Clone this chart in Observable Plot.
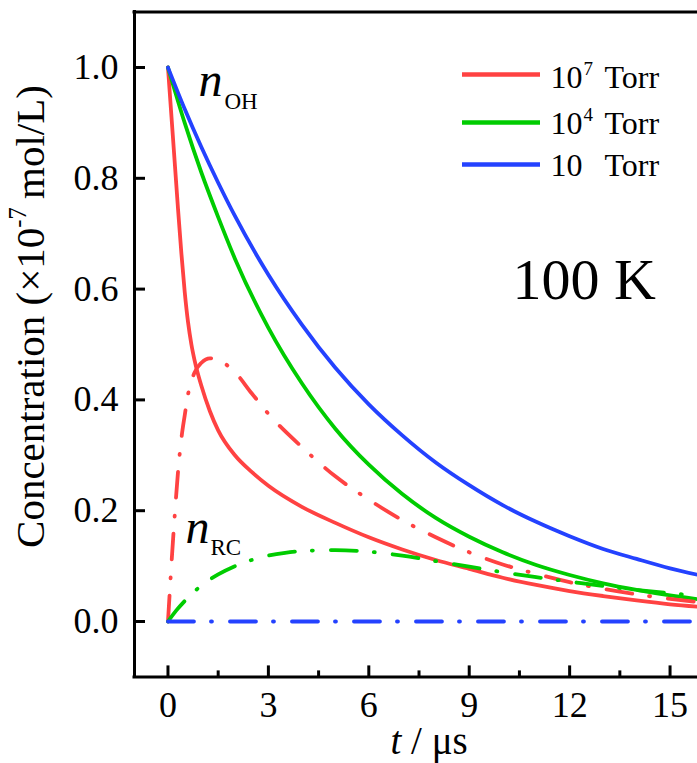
<!DOCTYPE html>
<html><head><meta charset="utf-8">
<script src="https://cdn.jsdelivr.net/npm/d3@7"></script>
<script src="https://cdn.jsdelivr.net/npm/@observablehq/plot@0.6"></script>
<style>
html,body{margin:0;padding:0;background:#fff;overflow:hidden;}
#chart svg{display:block;}
</style></head><body><div id="chart"></div>
<script>
// ---------- data ----------
const seriesNames = ["1e7", "1e4", "10"];
const seriesColors = ["#ff4242", "#00cc00", "#2442ff"];
const legendBase = "10";
const legendExp = ["7", "4", ""];
const legendUnit = "Torr";

// n_OH (solid)
const tRedOH = [0, 0.1, 0.2, 0.3, 0.4, 0.5, 0.6, 0.7, 0.8, 1.0, 1.25, 1.5, 2, 2.5, 3, 4, 5, 6, 7, 8, 9, 10, 11, 12, 13, 14, 15, 16];
const vRedOH = [1.0, 0.915, 0.83, 0.745, 0.665, 0.595, 0.54, 0.50, 0.47, 0.425, 0.38, 0.345, 0.30, 0.27, 0.245, 0.207, 0.178, 0.152, 0.130, 0.111, 0.095, 0.079, 0.066, 0.055, 0.046, 0.038, 0.031, 0.026];
const tGreenOH = [0, 0.5, 1, 1.5, 2, 3, 4, 5, 6, 7, 8, 9, 10, 11, 12, 13, 14, 15, 16];
const vGreenOH = [1.0, 0.90, 0.81, 0.73, 0.655, 0.53, 0.43, 0.348, 0.283, 0.23, 0.187, 0.153, 0.125, 0.102, 0.084, 0.069, 0.057, 0.047, 0.039];
const tBlueOH = [0, 0.5, 1, 1.5, 2, 3, 4, 5, 6, 7, 8, 9, 10, 11, 12, 13, 14, 15, 16];
const vBlueOH = [1.0, 0.925, 0.856, 0.792, 0.732, 0.626, 0.536, 0.458, 0.392, 0.336, 0.287, 0.246, 0.21, 0.18, 0.154, 0.131, 0.113, 0.096, 0.082];

// n_RC (dash-dot)
const tRedRC = [0, 0.05, 0.1, 0.2, 0.3, 0.4, 0.5, 0.6, 0.8, 1.0, 1.25, 1.5, 2, 2.5, 3, 4, 5, 6, 7, 8, 9, 10, 11, 12, 13, 14, 15, 16];
const vRedRC = [0, 0.05, 0.10, 0.19, 0.27, 0.33, 0.372, 0.41, 0.45, 0.467, 0.475, 0.472, 0.45, 0.412, 0.375, 0.315, 0.262, 0.22, 0.183, 0.152, 0.125, 0.103, 0.086, 0.071, 0.059, 0.049, 0.041, 0.034];
const tGreenRC = [0, 0.25, 0.5, 1, 1.5, 2, 2.5, 3, 3.5, 4, 5, 6, 7, 8, 9, 10, 11, 12, 13, 14, 15, 16];
const vGreenRC = [0, 0.02, 0.037, 0.065, 0.085, 0.1, 0.111, 0.119, 0.124, 0.127, 0.129, 0.126, 0.119, 0.109, 0.099, 0.089, 0.08, 0.072, 0.064, 0.057, 0.051, 0.046];
const tBlueRC = [0, 16];
const vBlueRC = [0, 0];

// ticks
const xTicks = [0, 3, 6, 9, 12, 15];
const xMinor = [1.5, 4.5, 7.5, 10.5, 13.5];
const yTicks = [0, 0.2, 0.4, 0.6, 0.8, 1.0];

// texts
const xLabelText = "t / μs";
const yLabelText = "Concentration (×10-7mol/L)";
const tempText = "100 K";

// ---------- layout ----------
const W = 697, H = 763;
const mL = 134, mR = 0, mT = 11.6, mB = H - 676.4;
const xDom = [-1, 15.82], yDom = [-0.1, 1.1];
const pxX = px => xDom[0] + (px - mL) / (W - mL - mR) * (xDom[1] - xDom[0]);
const pxY = py => yDom[0] + (H - mB - py) / (H - mT - mB) * (yDom[1] - yDom[0]);
const FONT = "'Liberation Serif', 'Times New Roman', Times, serif";

const mk = (name, ts, vs) => ts.map((t, i) => ({series: name, t, v: vs[i]}));
const solid = [
  ...mk(seriesNames[0], tRedOH, vRedOH),
  ...mk(seriesNames[1], tGreenOH, vGreenOH),
  ...mk(seriesNames[2], tBlueOH, vBlueOH)
];
const dashed = [
  ...mk(seriesNames[0], tRedRC, vRedRC),
  ...mk(seriesNames[1], tGreenRC, vGreenRC),
  ...mk(seriesNames[2], tBlueRC, vBlueRC)
];

const lbl = (str, px, py, opts = {}) => Plot.text([str], {
  text: d => d, frameAnchor: "top-left", dx: px - mL, dy: py - mT,
  textAnchor: "start", lineAnchor: "bottom", fill: "black", ...opts
});

const legendLineY = [74, 122, 164];
const legendBaseY = [87, 133, 175];

const marks = [
  // lines
  Plot.line(solid, {x: "t", y: "v", z: "series", stroke: "series", strokeWidth: 3.8, curve: "monotone-x", clip: true}),
  Plot.line(dashed, {x: "t", y: "v", z: "series", stroke: "series", strokeWidth: 3.8, curve: "monotone-x",
    strokeDasharray: "26,17,1,18", strokeLinecap: "round", clip: true}),
  // frame (left, top, bottom)
  Plot.ruleX([xDom[0]], {stroke: "black", strokeWidth: 3, strokeLinecap: "square"}),
  Plot.ruleY([yDom[0], yDom[1]], {stroke: "black", strokeWidth: 3, strokeLinecap: "square"}),
  // ticks (inward)
  Plot.ruleX(xTicks, {x: d => d, y1: yDom[0], y2: pxY(676.4 - 11), stroke: "black", strokeWidth: 3}),
  Plot.ruleX(xMinor, {x: d => d, y1: yDom[0], y2: pxY(676.4 - 6), stroke: "black", strokeWidth: 3}),
  Plot.ruleY(yTicks, {y: d => d, x1: xDom[0], x2: pxX(mL + 11), stroke: "black", strokeWidth: 3}),
  // tick labels
  Plot.text(xTicks, {x: d => d, y: yDom[0], dy: 29, text: d => String(d), fontSize: 36, fill: "black", lineAnchor: "middle"}),
  Plot.text(yTicks, {x: xDom[0], y: d => d, dx: -16, text: d => d.toFixed(1), fontSize: 36, fill: "black", textAnchor: "end", lineAnchor: "middle"}),
  // axis titles
  lbl(xLabelText, 390, 753, {fontSize: 39}),
  Plot.text([yLabelText], {text: d => d, frameAnchor: "left", rotate: -90, dx: 43 - mL, dy: 316 - (mT + H - mB) / 2,
    textAnchor: "middle", lineAnchor: "bottom", fontSize: 41, fill: "black"}),
  // legend
  Plot.ruleY(seriesNames, {y: (d, i) => pxY(legendLineY[i]), x1: pxX(462), x2: pxX(540), stroke: d => d, strokeWidth: 4.5}),
  ...seriesNames.map((s, i) => lbl(legendBase, 550, legendBaseY[i], {fontSize: 32})),
  ...seriesNames.map((s, i) => lbl(legendExp[i], 583, legendBaseY[i] - 13, {fontSize: 19})),
  ...seriesNames.map((s, i) => lbl(legendUnit, 604, legendBaseY[i], {fontSize: 32})),
  // annotations
  lbl(tempText, 512, 298, {fontSize: 58}),
  lbl("n", 198, 95, {fontSize: 48, fontStyle: "italic"}),
  lbl("OH", 224, 108, {fontSize: 23}),
  lbl("n", 185, 542, {fontSize: 48, fontStyle: "italic"}),
  lbl("RC", 210, 554, {fontSize: 23})
];

const svg = Plot.plot({
  width: W, height: H,
  marginLeft: mL, marginRight: mR, marginTop: mT, marginBottom: mB,
  x: {domain: xDom, axis: null},
  y: {domain: yDom, axis: null},
  color: {domain: seriesNames, range: seriesColors},
  style: {fontFamily: FONT, background: "white", color: "black", overflow: "hidden"},
  marks
});
document.getElementById("chart").appendChild(svg);

// rich text (italic / superscript) for the axis titles
d3.select(svg).selectAll("text").filter(function() { return this.textContent === yLabelText; }).each(function() {
  const t = d3.select(this); const fs = 41;
  t.text(null);
  t.append("tspan").text("Concentration (×10");
  t.append("tspan").attr("dy", -0.42 * fs).attr("font-size", 0.6 * fs).text("-7");
  t.append("tspan").attr("dy", 0.42 * fs).text("\u2009mol/L)");
});
d3.select(svg).selectAll("text").filter(function() { return this.textContent === xLabelText; }).each(function() {
  const t = d3.select(this);
  t.text(null);
  t.append("tspan").attr("font-style", "italic").text("t");
  t.append("tspan").text(" / μs");
});
</script></body></html>
